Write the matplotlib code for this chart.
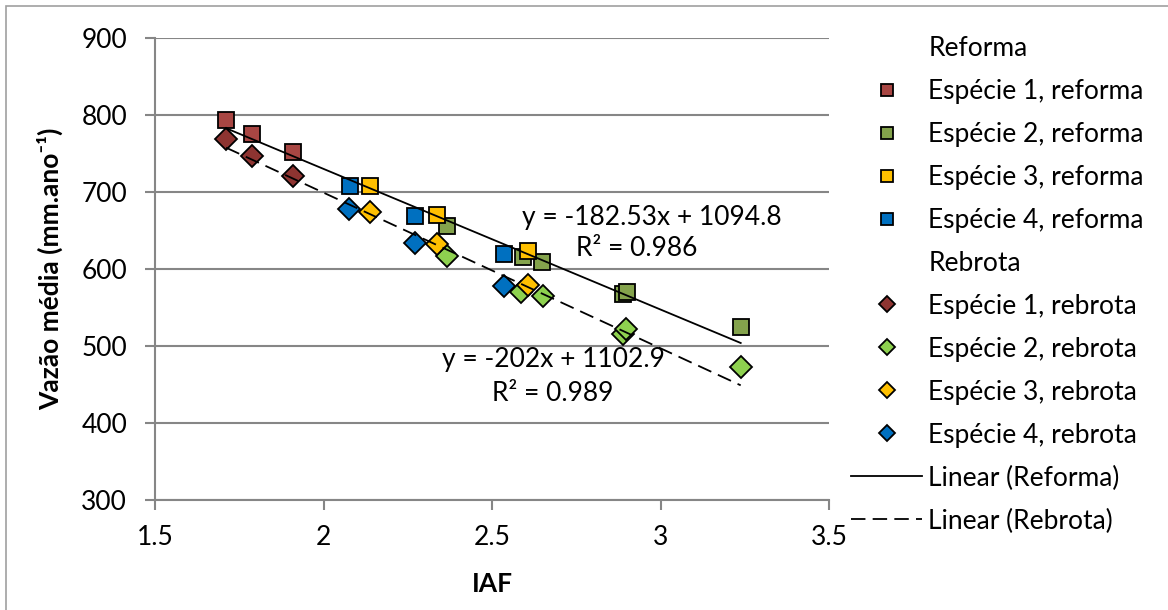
import matplotlib
matplotlib.use("Agg")
import matplotlib.pyplot as plt
import numpy as np
from matplotlib.lines import Line2D
from matplotlib.patches import Rectangle

plt.rcParams['font.family'] = ['Lato', 'DejaVu Sans']

# data (IAF, vazao media)
especies = ['Espécie 1', 'Espécie 2', 'Espécie 3', 'Espécie 4']

iaf_reforma = [
    [1.711, 1.789, 1.909],
    [2.367, 2.592, 2.649, 2.890, 2.900, 3.238],
    [2.138, 2.336, 2.608],
    [2.079, 2.272, 2.536],
]
vazao_reforma = [
    [793, 775, 752],
    [655, 616, 609, 567, 570, 525],
    [708, 670, 623],
    [707, 668, 619],
]
iaf_rebrota = [
    [1.711, 1.789, 1.909],
    [2.367, 2.587, 2.651, 2.889, 2.898, 3.238],
    [2.138, 2.337, 2.608],
    [2.077, 2.272, 2.536],
]
vazao_rebrota = [
    [768, 747, 720],
    [617, 570, 565, 516, 522, 473],
    [674, 632, 579],
    [678, 633, 578],
]

# trendline coefficients shown on the chart
trend_reforma = (-182.53, 1094.8, 0.986)
trend_rebrota = (-202.0, 1102.9, 0.989)

cores_reforma = ['#A84643', '#84A34C', '#FFC000', '#0070C0']
cores_rebrota = ['#8E3431', '#8ED14F', '#FFC000', '#0070C0']

fig = plt.figure(figsize=(11.68, 6.10), dpi=100)
ax = fig.add_axes([155 / 1168, 1 - 500 / 610, (829 - 155) / 1168, (500 - 37.7) / 610])

fig.patches.append(Rectangle((6 / 1168, -0.1), 1.2, 1.1 - 6 / 610, transform=fig.transFigure,
                             fill=False, edgecolor='#A0A0A0', linewidth=1.2))

for i in range(4):
    ax.plot(iaf_reforma[i], vazao_reforma[i], linestyle='none', marker='s', markersize=12,
            markerfacecolor=cores_reforma[i], markeredgecolor='black', markeredgewidth=1.3, zorder=3)
for i in range(4):
    ax.plot(iaf_rebrota[i], vazao_rebrota[i], linestyle='none', marker='D', markersize=11.5,
            markerfacecolor=cores_rebrota[i], markeredgecolor='black', markeredgewidth=1.3, zorder=4)

# trend lines
x_ref = np.concatenate(iaf_reforma)
x_reb = np.concatenate(iaf_rebrota)
xr = np.array([x_ref.min(), x_ref.max()])
xb = np.array([x_reb.min(), x_reb.max()])
ax.plot(xr, trend_reforma[0] * xr + trend_reforma[1], color='black', linewidth=1.3, zorder=5)
ax.plot(xb, trend_rebrota[0] * xb + trend_rebrota[1], color='black', linewidth=1.3,
        dashes=(8, 4), zorder=5)

fs = 19
ax.text(2.974, 667, 'y = -182.53x + 1094.8', fontsize=fs, ha='center', va='center')
ax.text(2.929, 627, 'R² = 0.986', fontsize=fs, ha='center', va='center')
ax.text(2.681, 482, 'y = -202x + 1102.9', fontsize=fs, ha='center', va='center')
ax.text(2.681, 438, 'R² = 0.989', fontsize=fs, ha='center', va='center')

ax.set_xlim(1.5, 3.5)
ax.set_ylim(300, 900)
ax.set_xticks([1.5, 2, 2.5, 3, 3.5])
ax.set_xticklabels(['1.5', '2', '2.5', '3', '3.5'])
ax.set_yticks(range(300, 901, 100))
ax.grid(axis='y', color='#868686', linewidth=1.5)
ax.set_axisbelow(True)
for s in ['top', 'right']:
    ax.spines[s].set_visible(False)
for s in ['left', 'bottom']:
    ax.spines[s].set_color('#868686')
    ax.spines[s].set_linewidth(1.5)
ax.tick_params(axis='both', direction='out', length=7, width=1.5, color='#868686',
               labelsize=fs)
ax.tick_params(axis='y', pad=13)
ax.tick_params(axis='x', pad=11)

ax.set_xlabel('IAF', fontsize=fs, fontweight='bold', labelpad=16)
ax.set_ylabel('Vazão média (mm.ano⁻¹)', fontsize=fs, fontweight='bold')
ax.yaxis.set_label_coords(-0.137, 0.5)

# legend
vazio = Line2D([], [], linestyle='none', marker=None)
handles = [vazio]
labels = ['Reforma']
for i in range(4):
    handles.append(Line2D([], [], linestyle='none', marker='s', markersize=9,
                          markerfacecolor=cores_reforma[i], markeredgecolor='black', markeredgewidth=1.3))
    labels.append(especies[i] + ', reforma')
handles.append(vazio)
labels.append('Rebrota')
for i in range(4):
    handles.append(Line2D([], [], linestyle='none', marker='D', markersize=8.5,
                          markerfacecolor=cores_rebrota[i], markeredgecolor='black', markeredgewidth=1.3))
    labels.append(especies[i] + ', rebrota')
handles.append(Line2D([], [], color='black', linewidth=1.3))
labels.append('Linear (Reforma)')
handles.append(Line2D([], [], color='black', linewidth=1.3, dashes=(8, 4)))
labels.append('Linear (Rebrota)')

fig.legend(handles, labels, loc='upper left', bbox_to_anchor=(851 / 1168, 1 - 36 / 610),
           frameon=False, fontsize=fs, handlelength=2.7, handletextpad=0.23,
           labelspacing=0.68, borderpad=0, borderaxespad=0)

fig.savefig('out.png', dpi=100)
